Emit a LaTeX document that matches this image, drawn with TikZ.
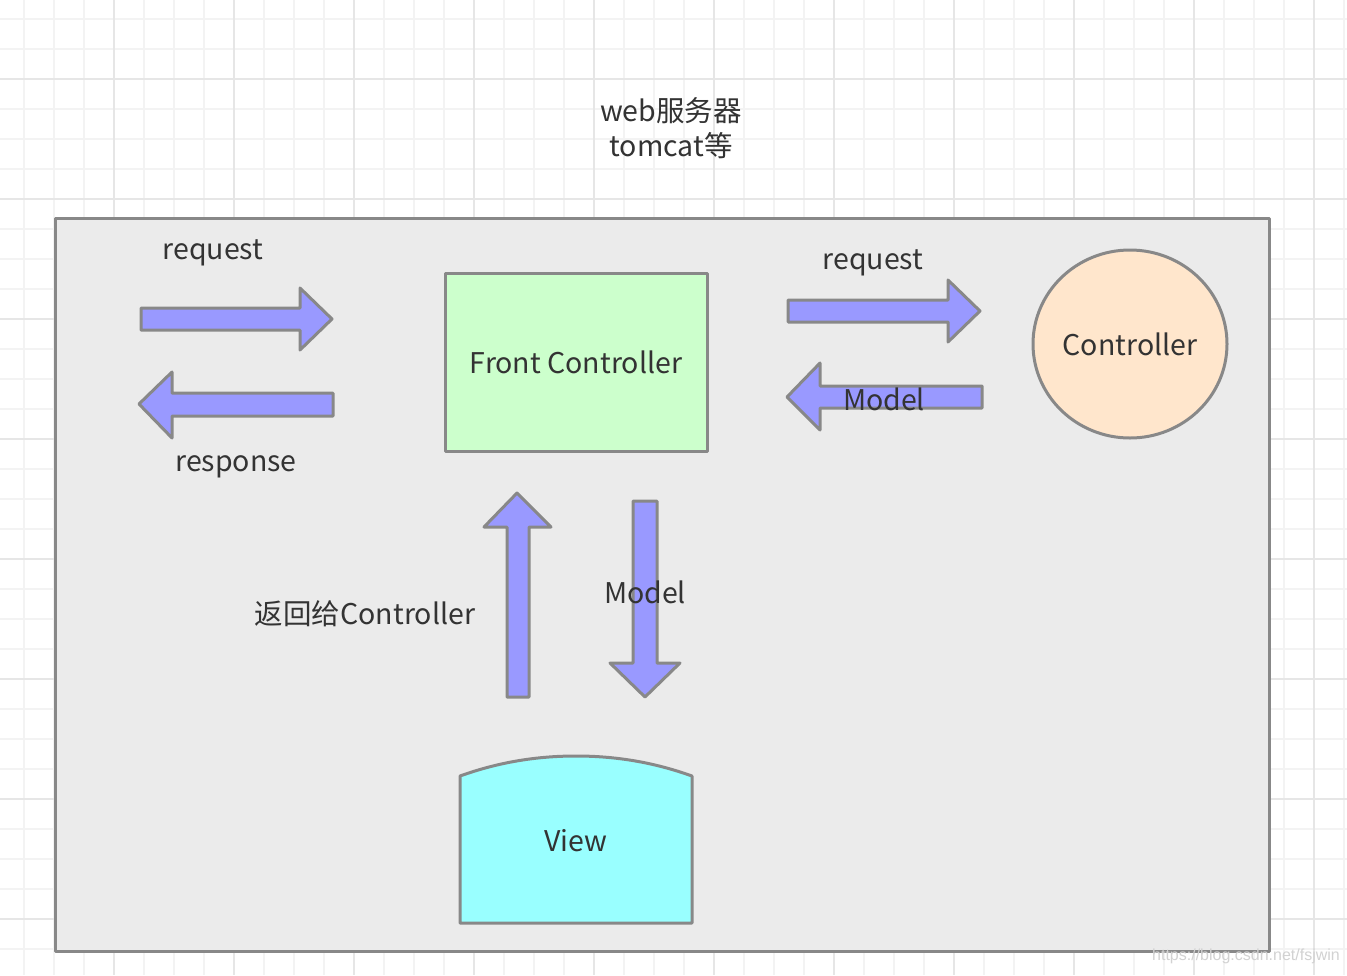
\documentclass[tikz,border=0pt]{standalone}
\usepackage{fontspec}
\setmainfont{Noto Sans CJK SC}
\newfontfamily\markfont{Liberation Sans}
\usetikzlibrary{shapes.geometric}
\definecolor{gridfine}{RGB}{243,243,243}
\definecolor{gridmajor}{RGB}{230,230,230}
\definecolor{boxgray}{RGB}{235,235,235}
\definecolor{linegray}{RGB}{136,136,136}
\definecolor{textgray}{RGB}{51,51,51}
\definecolor{arrowblue}{RGB}{153,153,255}
\definecolor{frontgreen}{RGB}{204,255,204}
\definecolor{ctrlorange}{RGB}{255,230,204}
\definecolor{viewcyan}{RGB}{153,255,255}
\tikzset{
  mvcpic/.style={x=1pt,y=-1pt,line join=round}
  ,label/.style={text=textgray,font=\fontsize{28.5}{35}\selectfont,inner sep=0pt,align=center}
  ,outline/.style={draw=linegray,line width=3pt}
  ,server/.style={outline,fill=boxgray}
  ,front/.style={outline,fill=frontgreen,rectangle,minimum width=262pt,minimum height=178pt,label}
  ,ctrl/.style={outline,fill=ctrlorange,ellipse,minimum width=194pt,minimum height=188pt,label}
  ,viewbox/.style={outline,fill=viewcyan}
  ,fatarrow/.style={outline,fill=arrowblue}
}
\begin{document}
\begin{tikzpicture}[mvcpic]
  \useasboundingbox (0,0) rectangle (1347,975);
  \fill[white] (0,0) rectangle (1347,975);
  % grid paper
  \foreach \x in {24,54,...,1344} \draw[gridfine,line width=1.5pt] (\x,0) -- (\x,975);
  \foreach \y in {19,49,...,970} \draw[gridfine,line width=1.5pt] (0,\y) -- (1347,\y);
  \foreach \x in {114,234,...,1344} \draw[gridmajor,line width=2pt] (\x,0) -- (\x,975);
  \foreach \y in {79,199,...,970} \draw[gridmajor,line width=2pt] (0,\y) -- (1347,\y);

  % web server
  \node[label] (title) at (671,128) {web服务器\\tomcat等};
  \draw[server] (55,218) rectangle (1269,951);

  \node[front] (frontctrl) at (576,362) {Front Controller};
  \node[ctrl] (controller) at (1130,344) {Controller};

  % view
  \draw[viewbox] (460,776) .. controls (499,762) and (537,756) .. (576,756)
    .. controls (615,756) and (653,762) .. (692,776) -- (692,923) -- (460,923) -- cycle;
  \node[label] (view) at (576,841) {View};

  % block arrows
  \draw[fatarrow] (141,308) -- (300,308) -- (300,288) -- (332,319) -- (300,350) -- (300,330) -- (141,330) -- cycle;
  \draw[fatarrow] (139,404) -- (172,372) -- (172,393) -- (333,393) -- (333,416) -- (172,416) -- (172,438) -- cycle;
  \draw[fatarrow] (788,300) -- (948,300) -- (948,280) -- (980,311) -- (948,342) -- (948,322) -- (788,322) -- cycle;
  \draw[fatarrow] (787,397) -- (820,363) -- (820,386) -- (982,386) -- (982,408) -- (820,408) -- (820,430) -- cycle;
  \draw[fatarrow] (517,493) -- (551,527) -- (529,527) -- (529,697) -- (507,697) -- (507,527) -- (484,527) -- cycle;
  \draw[fatarrow] (633,501) -- (657,501) -- (657,663) -- (680,663) -- (645,697) -- (610,663) -- (633,663) -- cycle;

  % labels
  \node[label] (reqin) at (213,253) {request};
  \node[label] (resp) at (236,467) {response};
  \node[label] (reqout) at (873,263) {request};
  \node[label] (modelback) at (884,399) {Model};
  \node[label] (toctrl) at (365,614) {返回给Controller};
  \node[label] (modeldown) at (645,592) {Model};

  \node[text=gridmajor!80!gray,font=\markfont\fontsize{16}{16}\selectfont,inner sep=0pt] (mark) at (1246,956) {https://blog.csdn.net/fsjwin};
\end{tikzpicture}
\end{document}
